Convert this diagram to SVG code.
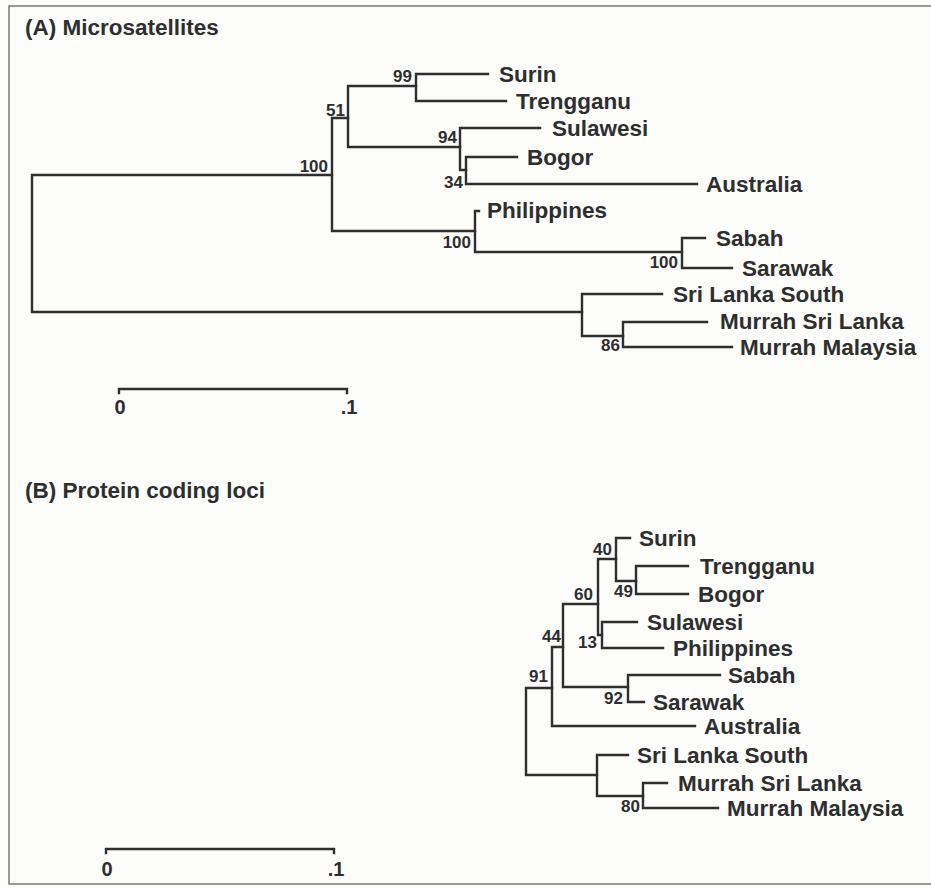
<svg xmlns="http://www.w3.org/2000/svg" width="931" height="888" viewBox="0 0 931 888">
<style>
.br{fill:none;stroke:#2e2e2e;stroke-width:2.4;stroke-linecap:square}
.fr{fill:none;stroke:#777;stroke-width:1.5}
.tx{font-family:"Liberation Sans",Arial,sans-serif;font-weight:bold;font-size:22.5px;fill:#2e2e2e}
.bs{font-family:"Liberation Sans",Arial,sans-serif;font-weight:bold;font-size:17px;fill:#2e2e2e;text-anchor:end}
.ti{font-family:"Liberation Sans",Arial,sans-serif;font-weight:bold;font-size:22.5px;fill:#2e2e2e}
.sc{font-family:"Liberation Sans",Arial,sans-serif;font-weight:bold;font-size:20px;fill:#2e2e2e;text-anchor:middle}
</style>
<rect width="931" height="888" fill="#fcfcfb"/>
<path class="fr" d="M931,6 H9 V884 H931"/>

<g id="connectors">
<!-- Tree A -->
<path class="br" d="M332,175 H32 V312 H582"/>
<path class="br" d="M348,118 H332 V231 H475"/>
<path class="br" d="M416,86 H348 V147 H460"/>
<path class="br" d="M488,74 H416 V101 H506"/>
<path class="br" d="M540,128 H460 V170 H466"/>
<path class="br" d="M517,157 H466 V184 H697"/>
<path class="br" d="M479,211 H475 V252 H682"/>
<path class="br" d="M705,238 H682 V268 H732"/>
<path class="br" d="M662,294 H582 V336 H623"/>
<path class="br" d="M707,322 H623 V347 H732"/>
<!-- Tree B -->
<path class="br" d="M552,688 H526 V775 H597"/>
<path class="br" d="M563,647 H552 V726 H695"/>
<path class="br" d="M598,604 H563 V687 H628"/>
<path class="br" d="M616,559 H598 V635 H602"/>
<path class="br" d="M630,538 H616 V581 H636"/>
<path class="br" d="M688,566 H636 V594 H688"/>
<path class="br" d="M637,622 H602 V648 H663"/>
<path class="br" d="M720,675 H628 V702 H644"/>
<path class="br" d="M628,755 H597 V796 H643"/>
<path class="br" d="M667,783 H643 V808 H718"/>
</g>

<g id="panelA">
<text class="ti" x="25" y="35">(A)  Microsatellites</text>
<g id="A-n100"><text class="bs" x="328" y="172">100</text></g>
<g id="A-n51"><text class="bs" x="345" y="116">51</text></g>
<g id="A-n99"><text class="bs" x="412" y="82">99</text></g>
<g id="A-n94"><text class="bs" x="457" y="143">94</text></g>
<g id="A-n34"><text class="bs" x="463" y="188">34</text></g>
<g id="A-n100b"><text class="bs" x="471" y="248">100</text></g>
<g id="A-n100c"><text class="bs" x="678" y="268">100</text></g>
<g id="A-n86"><text class="bs" x="620" y="351">86</text></g>
<g id="A-Surin"><text class="tx" x="499" y="82">Surin</text></g>
<g id="A-Trengganu"><text class="tx" x="516" y="109">Trengganu</text></g>
<g id="A-Sulawesi"><text class="tx" x="552" y="136">Sulawesi</text></g>
<g id="A-Bogor"><text class="tx" x="527" y="165">Bogor</text></g>
<g id="A-Australia"><text class="tx" x="706" y="192">Australia</text></g>
<g id="A-Philippines"><text class="tx" x="487" y="218">Philippines</text></g>
<g id="A-Sabah"><text class="tx" x="716" y="246">Sabah</text></g>
<g id="A-Sarawak"><text class="tx" x="742" y="276">Sarawak</text></g>
<g id="A-SriLankaSouth"><text class="tx" x="673" y="302">Sri Lanka South</text></g>
<g id="A-MurrahSriLanka"><text class="tx" x="720" y="329">Murrah Sri Lanka</text></g>
<g id="A-MurrahMalaysia"><text class="tx" x="740" y="355">Murrah Malaysia</text></g>
<g id="A-scale">
<path class="br" d="M119,393 V389 H347 V393"/>
<text class="sc" x="120" y="414">0</text>
<text class="sc" x="349" y="414">.1</text>
</g>
</g>

<g id="panelB">
<text class="ti" x="25" y="498">(B)  Protein coding loci</text>
<g id="B-n40"><text class="bs" x="612" y="555">40</text></g>
<g id="B-n49"><text class="bs" x="633" y="597">49</text></g>
<g id="B-n60"><text class="bs" x="593" y="600">60</text></g>
<g id="B-n13"><text class="bs" x="597" y="648">13</text></g>
<g id="B-n44"><text class="bs" x="561" y="642">44</text></g>
<g id="B-n91"><text class="bs" x="548" y="682">91</text></g>
<g id="B-n92"><text class="bs" x="623" y="704">92</text></g>
<g id="B-n80"><text class="bs" x="640" y="812">80</text></g>
<g id="B-Surin"><text class="tx" x="639" y="546">Surin</text></g>
<g id="B-Trengganu"><text class="tx" x="700" y="574">Trengganu</text></g>
<g id="B-Bogor"><text class="tx" x="698" y="602">Bogor</text></g>
<g id="B-Sulawesi"><text class="tx" x="647" y="630">Sulawesi</text></g>
<g id="B-Philippines"><text class="tx" x="673" y="656">Philippines</text></g>
<g id="B-Sabah"><text class="tx" x="728" y="683">Sabah</text></g>
<g id="B-Sarawak"><text class="tx" x="653" y="710">Sarawak</text></g>
<g id="B-Australia"><text class="tx" x="704" y="734">Australia</text></g>
<g id="B-SriLankaSouth"><text class="tx" x="637" y="763">Sri Lanka South</text></g>
<g id="B-MurrahSriLanka"><text class="tx" x="678" y="791">Murrah Sri Lanka</text></g>
<g id="B-MurrahMalaysia"><text class="tx" x="727" y="816">Murrah Malaysia</text></g>
<g id="B-scale">
<path class="br" d="M106,853 V849 H334 V853"/>
<text class="sc" x="107" y="876">0</text>
<text class="sc" x="336" y="876">.1</text>
</g>
</g>
</svg>
